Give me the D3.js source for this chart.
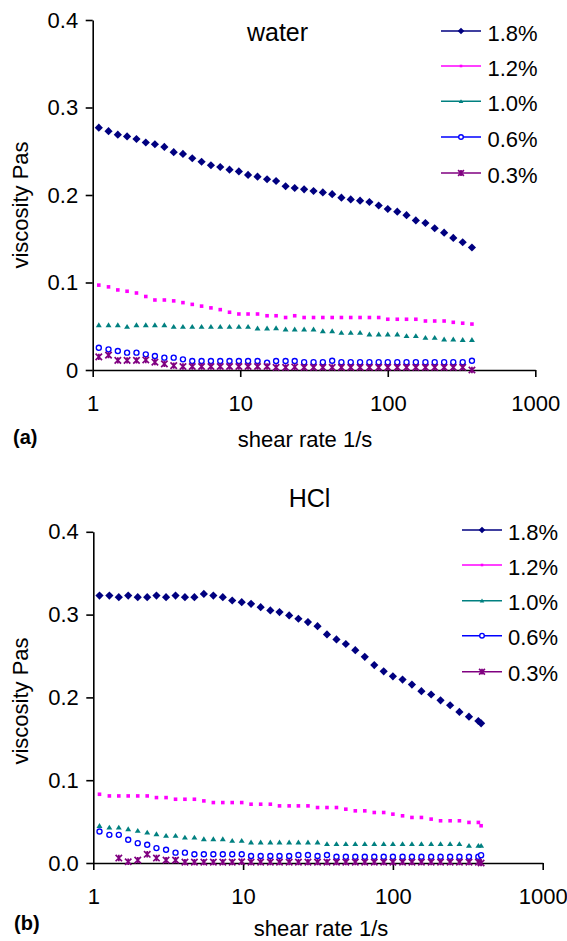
<!DOCTYPE html>
<html>
<head>
<meta charset="utf-8">
<script src="https://cdn.jsdelivr.net/npm/d3@7"></script>
<style>
  body { margin: 0; background: #fff; }
  svg text { font-family: "Liberation Sans", Arial, sans-serif; fill: #000; }
</style>
</head>
<body>
<svg id="chart" width="567" height="941"></svg>
<script>
// ---- data ---------------------------------------------------------------
const concentrations = ["1.8%", "1.2%", "1.0%", "0.6%", "0.3%"];
const seriesColors   = ["#000080", "#ff00ff", "#008080", "#0000ff", "#800080"];
const seriesMarkers  = ["diamond", "square", "triangle", "circle", "asterisk"];

// shear rates (1/s) of the rheometer sweep
const shearRateWater = [1.10, 1.28, 1.48, 1.71, 1.98, 2.29, 2.64, 3.06, 3.54, 4.09,
  4.73, 5.47, 6.33, 7.32, 8.46, 9.79, 11.3, 13.1, 15.2, 17.5,
  20.3, 23.4, 27.1, 31.4, 36.3, 42.0, 48.5, 56.1, 64.9, 75.1,
  86.8, 100, 116, 134, 155, 180, 208, 241, 278, 322, 372];
const shearRateHCl = [1.10, 1.28, 1.48, 1.71, 1.98, 2.29, 2.64, 3.06, 3.54, 4.09,
  4.73, 5.47, 6.33, 7.32, 8.46, 9.79, 11.3, 13.1, 15.2, 17.5,
  20.3, 23.4, 27.1, 31.4, 36.3, 42.0, 48.5, 56.1, 64.9, 75.1,
  86.8, 100, 116, 134, 155, 180, 208, 241, 278, 322, 372, 388];

// viscosity (Pa s) in water
const water18 = [0.277, 0.273, 0.269, 0.267, 0.264, 0.260, 0.258, 0.255, 0.249, 0.247,
  0.242, 0.238, 0.234, 0.232, 0.229, 0.227, 0.223, 0.221, 0.218, 0.216,
  0.210, 0.208, 0.2065, 0.2046, 0.203, 0.201, 0.197, 0.195, 0.1935, 0.192,
  0.188, 0.184, 0.181, 0.177, 0.171, 0.168, 0.162, 0.157, 0.151, 0.146, 0.140];
const water12 = [0.097, 0.095, 0.0915, 0.090, 0.088, 0.084, 0.080, 0.080, 0.079, 0.077,
  0.075, 0.073, 0.071, 0.069, 0.066, 0.064, 0.064, 0.064, 0.062, 0.062,
  0.060, 0.062, 0.060, 0.060, 0.060, 0.060, 0.060, 0.060, 0.060, 0.060,
  0.060, 0.058, 0.058, 0.058, 0.058, 0.056, 0.056, 0.056, 0.0545, 0.0535, 0.0525];
const water10 = [0.0514, 0.0514, 0.0514, 0.0495, 0.0514, 0.0514, 0.0514, 0.0514, 0.0495, 0.0495,
  0.0495, 0.0495, 0.0495, 0.0495, 0.0495, 0.0495, 0.0495, 0.0477, 0.0477, 0.048,
  0.0465, 0.0465, 0.0465, 0.0465, 0.0446, 0.0446, 0.0427, 0.0427, 0.0427, 0.0408,
  0.0408, 0.0408, 0.0408, 0.0389, 0.0389, 0.037, 0.037, 0.0351, 0.0351, 0.0345, 0.0345];
const water06 = [0.0255, 0.0236, 0.0217, 0.0198, 0.0198, 0.0179, 0.016, 0.0141, 0.0141, 0.0122,
  0.0103, 0.0103, 0.0103, 0.0103, 0.0103, 0.0103, 0.0103, 0.0103, 0.0084, 0.0103,
  0.0103, 0.0103, 0.009, 0.009, 0.009, 0.0105, 0.009, 0.009, 0.009, 0.009,
  0.009, 0.009, 0.009, 0.009, 0.009, 0.009, 0.009, 0.009, 0.009, 0.009, 0.0105];
const water03 = [0.015, 0.017, 0.011, 0.011, 0.011, 0.0115, 0.009, 0.007, 0.005, 0.004,
  0.004, 0.004, 0.004, 0.004, 0.004, 0.004, 0.004, 0.004, 0.004, 0.003,
  0.003, 0.0035, 0.003, 0.003, 0.003, 0.003, 0.003, 0.003, 0.003, 0.003,
  0.003, 0.003, 0.003, 0.003, 0.003, 0.003, 0.003, 0.003, 0.003, 0.003, 0.0];

// viscosity (Pa s) in HCl
const hcl18 = [0.323, 0.323, 0.321, 0.323, 0.321, 0.321, 0.323, 0.321, 0.323, 0.321,
  0.321, 0.325, 0.323, 0.321, 0.317, 0.315, 0.313, 0.309, 0.305, 0.303,
  0.299, 0.295, 0.291, 0.286, 0.276, 0.270, 0.2645, 0.257, 0.249, 0.239,
  0.2315, 0.2255, 0.2215, 0.2155, 0.2075, 0.2035, 0.1965, 0.1905, 0.1825, 0.1767, 0.1715, 0.1687];
const hcl12 = [0.083, 0.081, 0.081, 0.081, 0.081, 0.081, 0.079, 0.079, 0.077, 0.077,
  0.077, 0.075, 0.073, 0.073, 0.073, 0.073, 0.071, 0.071, 0.071, 0.069,
  0.069, 0.069, 0.069, 0.067, 0.067, 0.067, 0.065, 0.063, 0.063, 0.061,
  0.061, 0.059, 0.057, 0.055, 0.055, 0.053, 0.051, 0.051, 0.051, 0.049, 0.049, 0.045];
const hcl10 = [0.045, 0.043, 0.043, 0.041, 0.039, 0.037, 0.035, 0.033, 0.033, 0.031,
  0.031, 0.029, 0.029, 0.029, 0.027, 0.027, 0.025, 0.025, 0.025, 0.025,
  0.025, 0.025, 0.025, 0.025, 0.023, 0.023, 0.023, 0.023, 0.023, 0.023,
  0.023, 0.023, 0.023, 0.023, 0.023, 0.023, 0.023, 0.023, 0.023, 0.021, 0.021, 0.021];
const hcl06 = [0.038, 0.034, 0.034, 0.028, 0.024, 0.022, 0.018, 0.016, 0.0125, 0.0125,
  0.0105, 0.0105, 0.0105, 0.0105, 0.0105, 0.0105, 0.0085, 0.0085, 0.0085, 0.0085,
  0.0085, 0.0097, 0.0097, 0.0085, 0.0097, 0.0075, 0.0075, 0.0075, 0.0075, 0.0075,
  0.0075, 0.0075, 0.0075, 0.0075, 0.0075, 0.0075, 0.0075, 0.0075, 0.0075, 0.0075, 0.0075, 0.0095];
const hcl03 = [null, null, 0.006, 0.0015, 0.0035, 0.0105, 0.006, 0.0035, 0.0035, 0.001,
  0.001, 0.001, 0.001, 0.001, 0.001, 0.0015, 0.001, 0.001, 0.001, 0.001,
  0.001, 0.001, 0.001, 0.001, 0.001, 0.001, 0.001, 0.001, 0.001, 0.001,
  0.001, 0.001, 0.001, 0.001, 0.001, 0.001, 0.001, 0.001, 0.001, 0.001, 0.001, 0.0];

const xTickValues = [1, 10, 100, 1000];
const yTickValues = [0, 0.1, 0.2, 0.3, 0.4];

// ---- layout of the two panels -------------------------------------------
const panels = [
  {
    title: "water", tag: "(a)", rates: shearRateWater,
    series: [water18, water12, water10, water06, water03],
    xRange: [92.7, 535.3], yRange: [370, 20],
    yFormat: d => d === 0 ? "0" : d3.format(".1f")(d),
    titlePos: [277.5, 41], tagPos: [13, 444],
    xLabelPos: [305, 447], yLabelPos: [28, 205],
    legend: { x0: 441, x1: 481, textX: 487.5, rows: [31, 66, 101.3, 137, 173] }
  },
  {
    title: "HCl", tag: "(b)", rates: shearRateHCl,
    series: [hcl18, hcl12, hcl10, hcl06, hcl03],
    xRange: [93.3, 542.7], yRange: [863, 531.8],
    yFormat: d3.format(".1f"),
    titlePos: [309.5, 506.5], tagPos: [14, 930],
    xLabelPos: [321, 935.5], yLabelPos: [28, 701],
    legend: { x0: 462, x1: 502, textX: 508, rows: [530, 565, 600.7, 635.7, 671.7] }
  }
];

// ---- marker shapes ------------------------------------------------------
function markerPath(kind, s) {
  switch (kind) {
    case "diamond":  return `M0,${-s}L${s},0L0,${s}L${-s},0Z`;
    case "square":   return `M${-s},${-s}H${s}V${s}H${-s}Z`;
    case "triangle": return `M0,${-s}L${s * 1.1},${s * 0.8}L${-s * 1.1},${s * 0.8}Z`;
    case "circle":   return d3.arc()({ innerRadius: 0, outerRadius: s, startAngle: 0, endAngle: 2 * Math.PI });
    case "asterisk": return `M${-s},${-s}L${s},${s}M${-s},${s}L${s},${-s}M0,${-s}V${s}`;
  }
}
const plotSize   = { diamond: 4.1, square: 1.8, triangle: 2.7, circle: 2.5, asterisk: 3.2 };
const legendSize = { diamond: 3.3, square: 1.3, triangle: 2.1, circle: 2.3, asterisk: 2.9 };

function styleMarker(sel, kind, color) {
  if (kind === "circle") {
    sel.attr("fill", "#fff").attr("stroke", color).attr("stroke-width", 1.4);
  } else if (kind === "asterisk") {
    sel.attr("fill", "none").attr("stroke", color).attr("stroke-width", 1.7);
  } else {
    sel.attr("fill", color).attr("stroke", "none");
  }
}

// ---- drawing ------------------------------------------------------------
const svg = d3.select("#chart");
const FS = 22;

panels.forEach(p => {
  const x = d3.scaleLog().domain([1, 1000]).range(p.xRange);
  const y = d3.scaleLinear().domain([0, 0.4]).range(p.yRange);
  const g = svg.append("g");

  // axes
  const xAxis = g.append("g")
    .attr("transform", `translate(0,${p.yRange[0]})`)
    .call(d3.axisBottom(x).tickValues(xTickValues).tickFormat(d3.format("d"))
      .tickSize(7).tickSizeOuter(0));
  xAxis.selectAll("text").attr("y", 40.5).attr("dy", null);

  const yAxis = g.append("g")
    .attr("transform", `translate(${p.xRange[0]},0)`)
    .call(d3.axisLeft(y).tickValues(yTickValues).tickFormat(p.yFormat)
      .tickSize(7).tickSizeOuter(0).tickPadding(7.5));

  [xAxis, yAxis].forEach(a => {
    a.selectAll("path, line").attr("stroke", "#000").attr("stroke-width", 1.6);
    a.selectAll("text").attr("font-size", FS)
      .attr("font-family", "Liberation Sans, Arial, sans-serif").attr("fill", "#000");
  });

  // series markers
  p.series.forEach((vals, si) => {
    const kind = seriesMarkers[si];
    const pts = vals.map((v, i) => ({ r: p.rates[i], v })).filter(d => d.v !== null);
    const m = g.append("g").selectAll("path").data(pts).join("path")
      .attr("d", markerPath(kind, plotSize[kind]))
      .attr("transform", d => `translate(${x(d.r)},${y(d.v)})`);
    styleMarker(m, kind, seriesColors[si]);
  });

  // legend
  const lg = g.append("g");
  concentrations.forEach((label, si) => {
    const ly = p.legend.rows[si];
    const kind = seriesMarkers[si];
    lg.append("line")
      .attr("x1", p.legend.x0).attr("x2", p.legend.x1)
      .attr("y1", ly).attr("y2", ly)
      .attr("stroke", seriesColors[si]).attr("stroke-width", 1.6);
    const mk = lg.append("path")
      .attr("d", markerPath(kind, legendSize[kind]))
      .attr("transform", `translate(${(p.legend.x0 + p.legend.x1) / 2},${ly})`);
    styleMarker(mk, kind, seriesColors[si]);
    lg.append("text")
      .attr("x", p.legend.textX).attr("y", ly + 9.5)
      .attr("font-size", FS).text(label);
  });

  // titles and labels
  g.append("text").attr("x", p.titlePos[0]).attr("y", p.titlePos[1])
    .attr("text-anchor", "middle").attr("font-size", 25).text(p.title);
  g.append("text").attr("x", p.tagPos[0]).attr("y", p.tagPos[1])
    .attr("font-size", 20).attr("font-weight", "bold").text(p.tag);
  g.append("text").attr("x", p.xLabelPos[0]).attr("y", p.xLabelPos[1])
    .attr("text-anchor", "middle").attr("font-size", FS).text("shear rate 1/s");
  g.append("text")
    .attr("transform", `translate(${p.yLabelPos[0]},${p.yLabelPos[1]}) rotate(-90)`)
    .attr("text-anchor", "middle").attr("font-size", FS).text("viscosity Pas");
});
</script>
</body>
</html>
